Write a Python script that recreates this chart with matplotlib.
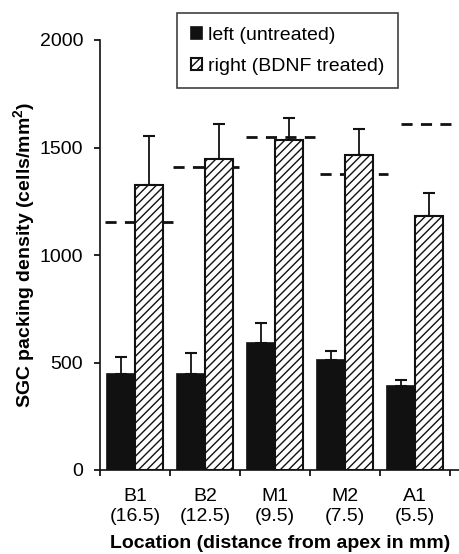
import matplotlib
matplotlib.use("Agg")
import matplotlib.pyplot as plt
import numpy as np

plt.rcParams['font.family'] = ['Liberation Sans', 'DejaVu Sans']
plt.rcParams['hatch.linewidth'] = 1.0
plt.rcParams['lines.scale_dashes'] = False

categories = ["B1\n(16.5)", "B2\n(12.5)", "M1\n(9.5)", "M2\n(7.5)", "A1\n(5.5)"]
left_vals = [446, 446, 589, 513, 392]
left_err = [78, 97, 93, 42, 27]
right_vals = [1326, 1447, 1535, 1464, 1183]
right_err = [229, 162, 104, 120, 107]
normal_vals = [1152, 1411, 1550, 1377, 1608]
yticks = [0, 500, 1000, 1500, 2000]
legend_labels = ["left (untreated)", "right (BDNF treated)"]

fig = plt.figure(figsize=(4.6, 5.54), dpi=100)
ax = fig.add_axes([100/460, 84/554, 360/460, 430/554])

n = len(categories)
centers = np.arange(n) + 0.5
w = 0.4

# dashed reference lines (behind bars)
dash_start = [0.07, 1.04, 2.09, 3.14, 4.30]
dash_end = [1.04, 1.99, 3.07, 4.11, 5.03]
for i, v in enumerate(normal_vals):
    ax.plot([dash_start[i], dash_end[i]], [v, v], color='#111111', lw=2.0,
            dashes=(8, 6), zorder=1, solid_capstyle='butt', dash_capstyle='butt')

b1 = ax.bar(centers - w/2, left_vals, width=w, color='#111111', edgecolor='#111111',
            linewidth=1.2, zorder=2, label=legend_labels[0])
b2 = ax.bar(centers + w/2, right_vals, width=w, color='white', edgecolor='#111111',
            linewidth=1.5, hatch='////', zorder=2, label=legend_labels[1])

ax.errorbar(centers - w/2, left_vals, yerr=[np.zeros(n), left_err], fmt='none',
            ecolor='#111111', elinewidth=1.3, capsize=4, capthick=1.5, zorder=1.5)
ax.errorbar(centers + w/2, right_vals, yerr=[np.zeros(n), right_err], fmt='none',
            ecolor='#111111', elinewidth=1.3, capsize=4, capthick=1.5, zorder=1.5)

ax.set_xlim(0, 360/70)
ax.set_ylim(0, 2000)
ax.set_yticks(yticks)
ax.set_yticklabels([str(t) for t in yticks])
ax.tick_params(axis='y', direction='out', length=4, width=1.2, pad=8, labelsize=14)

ax.set_xticks(np.arange(n + 1))
ax.set_xticklabels([])
ax.tick_params(axis='x', which='major', direction='out', length=4, width=1.2)
ax.set_xticks(centers, minor=True)
ax.set_xticklabels(categories, minor=True, fontsize=14, linespacing=1.25)
ax.tick_params(axis='x', which='minor', length=0, pad=13)

for s in ['top', 'right']:
    ax.spines[s].set_visible(False)
for s in ['left', 'bottom']:
    ax.spines[s].set_linewidth(1.2)
    ax.spines[s].set_color('#111111')

ax.set_ylabel("SGC packing density (cells/mm$^\\mathregular{2}$)", fontsize=14,
              fontweight='bold', labelpad=1)
ax.set_xlabel("Location (distance from apex in mm)", fontsize=14, fontweight='bold',
              labelpad=7)

leg = ax.legend(handles=[b1, b2], labels=legend_labels, loc='upper left',
                bbox_to_anchor=(177/460, 1 - 13/554), bbox_transform=fig.transFigure,
                fontsize=14, frameon=True, fancybox=False, edgecolor='#111111',
                handlelength=0.6, handleheight=0.6, handletextpad=0.3,
                labelspacing=0.72, borderpad=0.7, borderaxespad=0)
leg.get_frame().set_linewidth(1.2)

fig.savefig("out.png", dpi=100)
